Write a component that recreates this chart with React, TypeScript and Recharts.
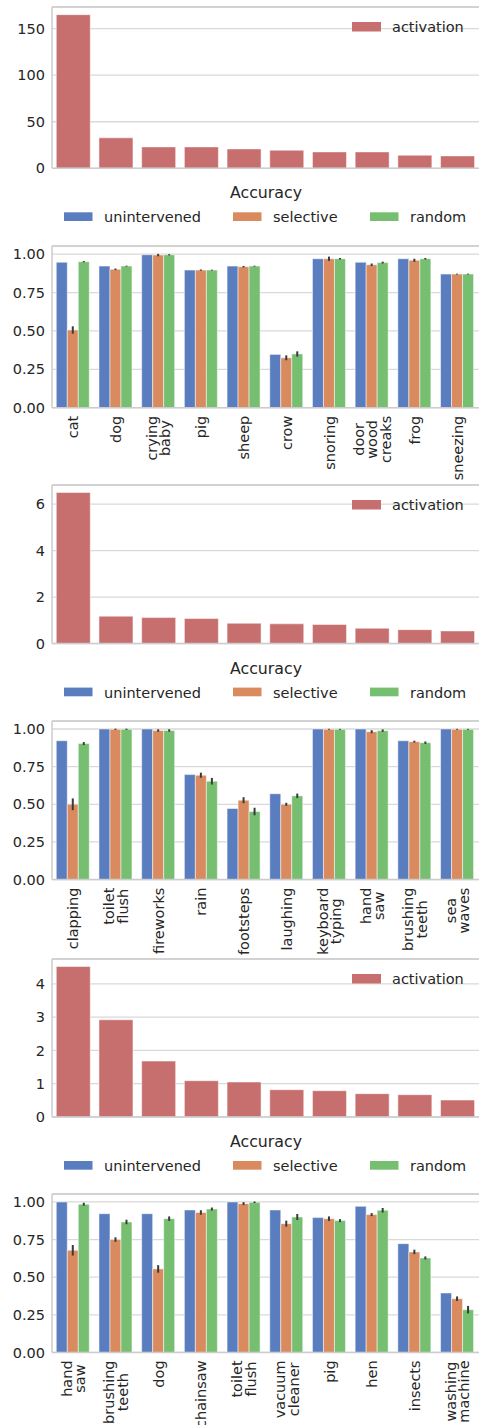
import React from "react";
import { BarChart, Bar, XAxis, YAxis, CartesianGrid, ReferenceLine, ErrorBar } from "recharts";

const FONT = '"DejaVu Sans", Verdana, sans-serif';
const INK = "#262626";
const GRID = "#d9d9d9";
const SPINE = "#cccccc";
const FS = 14.5;
const TITLE_FS = 15.8;

const BLUE = "#597dbf";
const ORANGE = "#d98b5f";
const GREEN = "#76bf71";
const RED = "#c76e6e";
const ERR = "#3a3a3a";

const W = 479;
const MT = 10;
const LABEL_PAD = 8;
const LINE_STEP = 13.4;

// first block
const CATS_A = ["cat", "dog", "crying\nbaby", "pig", "sheep", "crow", "snoring", "door\nwood\ncreaks", "frog", "sneezing"];
const ACT_A = [165, 32.7, 23, 23, 20.8, 19.4, 17.6, 17.6, 14, 13.3];
const UNI_A = [0.947, 0.922, 0.996, 0.896, 0.922, 0.347, 0.97, 0.947, 0.97, 0.87];
const SEL_A = [0.506, 0.901, 0.994, 0.896, 0.918, 0.325, 0.97, 0.931, 0.96, 0.87];
const SEL_ERR_A = [0.024, 0.005, 0.008, 0.004, 0.005, 0.016, 0.014, 0.008, 0.01, 0.003];
const RND_A = [0.951, 0.922, 0.996, 0.896, 0.922, 0.35, 0.97, 0.945, 0.97, 0.87];
const RND_ERR_A = [0.004, 0.003, 0.004, 0.003, 0.003, 0.017, 0.005, 0.006, 0.005, 0.003];

// second block
const CATS_B = ["clapping", "toilet\nflush", "fireworks", "rain", "footsteps", "laughing", "keyboard\ntyping", "hand\nsaw", "brushing\nteeth", "sea\nwaves"];
const ACT_B = [6.5, 1.18, 1.12, 1.08, 0.875, 0.85, 0.82, 0.66, 0.6, 0.545];
const UNI_B = [0.922, 1.0, 1.0, 0.697, 0.472, 0.57, 1.0, 1.0, 0.922, 1.0];
const SEL_B = [0.5, 0.998, 0.99, 0.693, 0.527, 0.5, 0.998, 0.982, 0.916, 0.998];
const SEL_ERR_B = [0.039, 0.004, 0.008, 0.017, 0.02, 0.01, 0.003, 0.01, 0.006, 0.003];
const RND_B = [0.903, 0.998, 0.99, 0.653, 0.452, 0.556, 0.998, 0.989, 0.909, 0.998];
const RND_ERR_B = [0.01, 0.004, 0.008, 0.022, 0.025, 0.015, 0.003, 0.008, 0.008, 0.003];

// third block
const CATS_C = ["hand\nsaw", "brushing\nteeth", "dog", "chainsaw", "toilet\nflush", "vacuum\ncleaner", "pig", "hen", "insects", "washing\nmachine"];
const ACT_C = [4.52, 2.92, 1.68, 1.09, 1.05, 0.82, 0.79, 0.7, 0.67, 0.51];
const UNI_C = [1.0, 0.922, 0.922, 0.947, 1.0, 0.947, 0.896, 0.971, 0.723, 0.395];
const SEL_C = [0.679, 0.75, 0.555, 0.93, 0.989, 0.856, 0.889, 0.916, 0.668, 0.357];
const SEL_ERR_C = [0.035, 0.015, 0.025, 0.015, 0.01, 0.02, 0.015, 0.01, 0.015, 0.015];
const RND_C = [0.985, 0.867, 0.889, 0.953, 0.998, 0.9, 0.876, 0.945, 0.628, 0.284];
const RND_ERR_C = [0.01, 0.015, 0.015, 0.01, 0.005, 0.02, 0.01, 0.015, 0.01, 0.025];

const ACT_TICKS_A = [0, 50, 100, 150];
const ACT_TICKS_B = [0, 2, 4, 6];
const ACT_TICKS_C = [0, 1, 2, 3, 4];
const ACC_TICKS = [0, 0.25, 0.5, 0.75, 1];
const ACC_MAX = 1.053;

let ctx: CanvasRenderingContext2D | null = null;
function textWidth(s: string) {
  if (!ctx) ctx = document.createElement("canvas").getContext("2d");
  if (!ctx) return s.length * FS * 0.6;
  ctx.font = `${FS}px "DejaVu Sans"`;
  return ctx.measureText(s).width;
}

function CatTick(props: any) {
  const { x, y, payload } = props;
  const lines = String(payload.value).split("\n");
  const longest = Math.max(...lines.map(textWidth));
  const cy = y + LABEL_PAD + longest / 2;
  return (
    <g>
      {lines.map((ln, i) => {
        const cx = x + (i - (lines.length - 1) / 2) * LINE_STEP;
        return (
          <text key={i} x={cx} y={cy} transform={`rotate(-90 ${cx} ${cy})`} textAnchor="middle"
            dominantBaseline="central" fill={INK} fontSize={FS} fontFamily={FONT}>
            {ln}
          </text>
        );
      })}
    </g>
  );
}

const tickStyle = { fill: INK, fontSize: FS, fontFamily: FONT };
const spine = { stroke: SPINE, strokeWidth: 1.5 };

function ActivationPanel({ top, plotH, cats, values, ticks }: any) {
  const rows = cats.map((c: string, i: number) => ({ cat: c, activation: values[i] }));
  const yMax = Math.max(...values) * 1.05;
  const XH = 14;
  const h = MT + plotH + XH;
  const bottom = top + plotH;
  return (
    <>
      <div style={{ position: "absolute", left: 0, top: top - MT, width: W, height: h }}>
        <BarChart width={W} height={h} data={rows} margin={{ top: MT, right: 0, bottom: 0, left: 0 }} barCategoryGap="10%">
          <CartesianGrid vertical={false} stroke={GRID} strokeWidth={1.3} />
          <XAxis dataKey="cat" tick={false} tickLine={false} axisLine={spine} height={XH} interval={0} />
          <YAxis width={52} domain={[0, yMax]} ticks={ticks} interval={0} tickLine={false} axisLine={spine}
            tickSize={0} tickMargin={7} tick={tickStyle} />
          <ReferenceLine y={yMax} stroke={SPINE} strokeWidth={1.5} />
          <Bar dataKey="activation" fill={RED} stroke="#fff" strokeWidth={1} strokeOpacity={0.5} isAnimationActive={false} />
        </BarChart>
      </div>
      <svg style={{ position: "absolute", left: 0, top: top, overflow: "visible" }} width={W} height={plotH + 60}>
        <rect x={352} y={15} width={29} height={9.5} fill={RED} />
        <text x={392} y={25.3} fill={INK} fontSize={FS} fontFamily={FONT}>activation</text>
        <g transform={`translate(0, ${bottom - top})`}>
          <text x={266} y={30} textAnchor="middle" fill={INK} fontSize={TITLE_FS} fontFamily={FONT}>Accuracy</text>
          <rect x={64} y={44} width={28.5} height={8.7} fill={BLUE} />
          <text x={104} y={54} fill={INK} fontSize={FS} fontFamily={FONT}>unintervened</text>
          <rect x={233} y={44} width={28.5} height={8.7} fill={ORANGE} />
          <text x={273} y={54} fill={INK} fontSize={FS} fontFamily={FONT}>selective</text>
          <rect x={370} y={44} width={28.5} height={8.7} fill={GREEN} />
          <text x={410} y={54} fill={INK} fontSize={FS} fontFamily={FONT}>random</text>
        </g>
      </svg>
    </>
  );
}

function AccuracyPanel({ top, plotH, cats, uni, sel, selErr, rnd, rndErr }: any) {
  const rows = cats.map((c: string, i: number) => ({
    cat: c, unintervened: uni[i], selective: sel[i], selErr: selErr[i], random: rnd[i], rndErr: rndErr[i],
  }));
  const XH = 80;
  const h = MT + plotH + XH;
  return (
    <div style={{ position: "absolute", left: 0, top: top - MT, width: W, height: h }}>
      <BarChart width={W} height={h} data={rows} margin={{ top: MT, right: 0, bottom: 0, left: 0 }}
        barCategoryGap="10%" barGap={0}>
        <CartesianGrid vertical={false} stroke={GRID} strokeWidth={1.3} />
        <XAxis dataKey="cat" tick={(p: any) => <CatTick {...p} />} tickLine={false} axisLine={spine}
          height={XH} interval={0} tickSize={0} tickMargin={0} />
        <YAxis width={52} domain={[0, ACC_MAX]} ticks={ACC_TICKS} interval={0} tickLine={false} axisLine={spine}
          tickSize={0} tickMargin={7} tick={tickStyle} tickFormatter={(v: number) => v.toFixed(2)} />
        <ReferenceLine y={ACC_MAX} stroke={SPINE} strokeWidth={1.5} />
        <Bar dataKey="unintervened" fill={BLUE} stroke="#fff" strokeWidth={1} strokeOpacity={0.5} isAnimationActive={false} />
        <Bar dataKey="selective" fill={ORANGE} stroke="#fff" strokeWidth={1} strokeOpacity={0.5} isAnimationActive={false}>
          <ErrorBar dataKey="selErr" width={0} stroke={ERR} strokeWidth={2} direction="y" isAnimationActive={false} />
        </Bar>
        <Bar dataKey="random" fill={GREEN} stroke="#fff" strokeWidth={1} strokeOpacity={0.5} isAnimationActive={false}>
          <ErrorBar dataKey="rndErr" width={0} stroke={ERR} strokeWidth={2} direction="y" isAnimationActive={false} />
        </Bar>
      </BarChart>
    </div>
  );
}

export default function App() {
  return (
    <div style={{ position: "absolute", left: 0, top: 0, width: W, height: 1425, overflow: "hidden", background: "#fff", fontFamily: FONT }}>
      <ActivationPanel top={7} plotH={161.3} cats={CATS_A} values={ACT_A} ticks={ACT_TICKS_A} />
      <AccuracyPanel top={246} plotH={161.7} cats={CATS_A} uni={UNI_A} sel={SEL_A} selErr={SEL_ERR_A} rnd={RND_A} rndErr={RND_ERR_A} />
      <ActivationPanel top={484.7} plotH={158.6} cats={CATS_B} values={ACT_B} ticks={ACT_TICKS_B} />
      <AccuracyPanel top={720.7} plotH={158.6} cats={CATS_B} uni={UNI_B} sel={SEL_B} selErr={SEL_ERR_B} rnd={RND_B} rndErr={RND_ERR_B} />
      <ActivationPanel top={959.3} plotH={158} cats={CATS_C} values={ACT_C} ticks={ACT_TICKS_C} />
      <AccuracyPanel top={1194.3} plotH={158.4} cats={CATS_C} uni={UNI_C} sel={SEL_C} selErr={SEL_ERR_C} rnd={RND_C} rndErr={RND_ERR_C} />
    </div>
  );
}
